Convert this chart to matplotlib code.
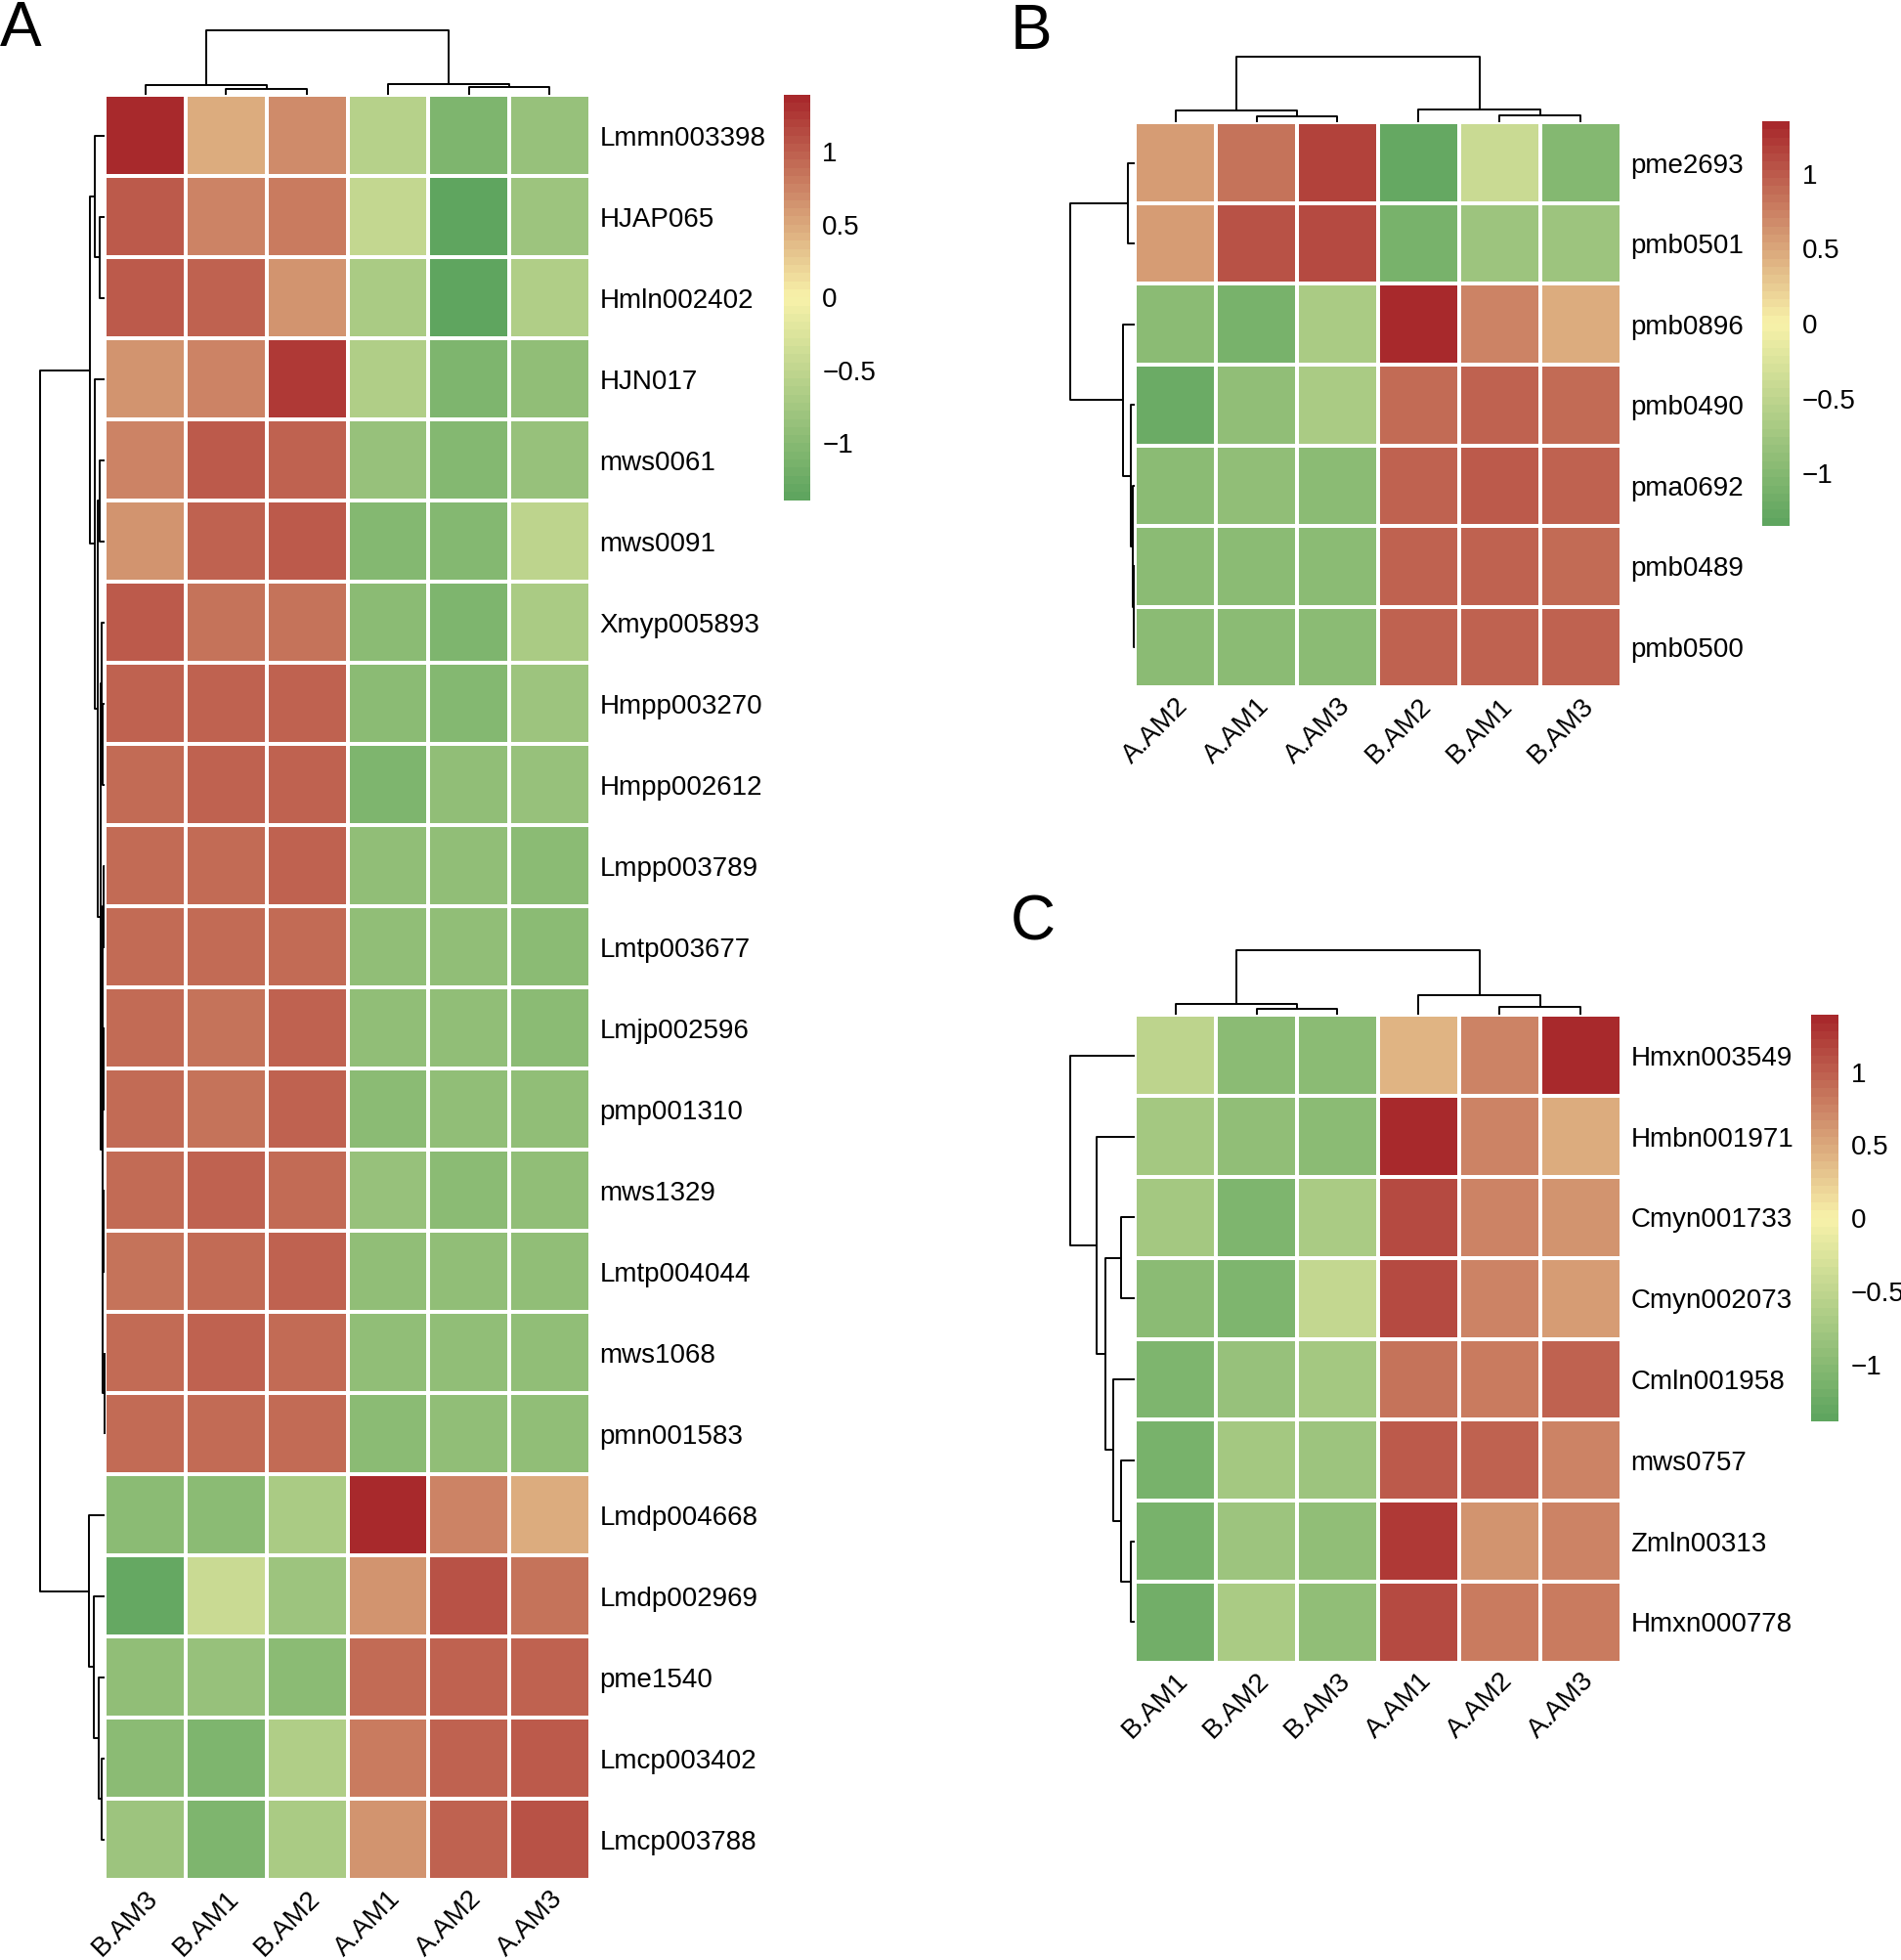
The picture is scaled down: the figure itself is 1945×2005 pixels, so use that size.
import numpy as np
import matplotlib
matplotlib.use("Agg")
import matplotlib.pyplot as plt
from matplotlib.colors import LinearSegmentedColormap

plt.rcParams["font.family"] = ["Liberation Sans", "DejaVu Sans"]

# ---------------- data ----------------
# panel A
a_rows = ["Lmmn003398", "HJAP065", "Hmln002402", "HJN017", "mws0061", "mws0091",
          "Xmyp005893", "Hmpp003270", "Hmpp002612", "Lmpp003789", "Lmtp003677",
          "Lmjp002596", "pmp001310", "mws1329", "Lmtp004044", "mws1068", "pmn001583",
          "Lmdp004668", "Lmdp002969", "pme1540", "Lmcp003402", "Lmcp003788"]
a_cols = ["B.AM3", "B.AM1", "B.AM2", "A.AM1", "A.AM2", "A.AM3"]
a_vals = [
    [1.39, 0.50, 0.70, -0.60, -1.10, -0.85],
    [1.05, 0.75, 0.80, -0.45, -1.37, -0.80],
    [1.05, 0.95, 0.65, -0.70, -1.35, -0.65],
    [0.65, 0.75, 1.25, -0.65, -1.10, -0.90],
    [0.75, 1.05, 0.95, -0.85, -1.05, -0.85],
    [0.65, 0.95, 1.05, -1.05, -1.05, -0.55],
    [1.05, 0.85, 0.85, -0.95, -1.10, -0.70],
    [0.95, 0.95, 0.95, -0.95, -1.05, -0.80],
    [0.90, 0.95, 0.95, -1.10, -0.90, -0.85],
    [0.93, 0.90, 0.95, -0.90, -0.90, -0.95],
    [0.93, 0.93, 0.93, -0.90, -0.92, -0.95],
    [0.93, 0.88, 0.98, -0.90, -0.92, -0.95],
    [0.93, 0.88, 0.98, -0.95, -0.90, -0.92],
    [0.92, 0.98, 0.90, -0.88, -0.97, -0.93],
    [0.88, 0.93, 0.98, -0.93, -0.90, -0.93],
    [0.90, 0.98, 0.90, -0.92, -0.92, -0.92],
    [0.93, 0.93, 0.93, -0.95, -0.90, -0.92],
    [-0.95, -1.00, -0.70, 1.39, 0.75, 0.45],
    [-1.30, -0.40, -0.80, 0.65, 1.10, 0.85],
    [-0.90, -0.85, -1.00, 0.90, 0.95, 0.95],
    [-0.95, -1.10, -0.65, 0.80, 0.95, 1.05],
    [-0.80, -1.10, -0.70, 0.65, 0.95, 1.10],
]
# merges: (child, child, height); leaves are 0..n-1, new nodes numbered after
a_row_tree = [(1, 2, 0.085), (0, 22, 0.15), (4, 5, 0.085), (7, 8, 0.03), (6, 25, 0.05),
              (9, 10, 0.015), (11, 12, 0.02), (27, 28, 0.03), (13, 14, 0.02), (15, 16, 0.01),
              (30, 31, 0.03), (29, 32, 0.04), (26, 33, 0.07), (24, 34, 0.11), (3, 35, 0.15),
              (23, 36, 0.225), (20, 21, 0.055), (19, 38, 0.10), (18, 39, 0.165),
              (17, 40, 0.25), (37, 41, 1.0)]
a_col_tree = [(1, 2, 0.10), (0, 6, 0.16), (4, 5, 0.12), (3, 8, 0.165), (7, 9, 1.0)]

# panel B
b_rows = ["pme2693", "pmb0501", "pmb0896", "pmb0490", "pma0692", "pmb0489", "pmb0500"]
b_cols = ["A.AM2", "A.AM1", "A.AM3", "B.AM2", "B.AM1", "B.AM3"]
b_vals = [
    [0.55, 0.85, 1.15, -1.25, -0.40, -1.00],
    [0.55, 1.05, 1.10, -1.10, -0.80, -0.80],
    [-0.95, -1.10, -0.65, 1.35, 0.75, 0.45],
    [-1.20, -0.90, -0.65, 0.90, 0.95, 0.90],
    [-0.95, -0.90, -0.95, 0.92, 0.98, 0.95],
    [-0.95, -0.95, -0.95, 0.95, 0.97, 0.90],
    [-0.95, -0.95, -0.95, 0.92, 0.97, 0.92],
]
b_row_tree = [(0, 1, 0.106), (5, 6, 0.02), (4, 8, 0.04), (3, 9, 0.06), (2, 10, 0.18), (7, 11, 1.0)]
b_col_tree = [(1, 2, 0.10), (0, 6, 0.18), (4, 5, 0.115), (3, 8, 0.19), (7, 9, 1.0)]

# panel C
c_rows = ["Hmxn003549", "Hmbn001971", "Cmyn001733", "Cmyn002073", "Cmln001958",
          "mws0757", "Zmln00313", "Hmxn000778"]
c_cols = ["B.AM1", "B.AM2", "B.AM3", "A.AM1", "A.AM2", "A.AM3"]
c_vals = [
    [-0.55, -1.00, -0.95, 0.40, 0.75, 1.38],
    [-0.75, -0.90, -0.95, 1.39, 0.75, 0.50],
    [-0.75, -1.10, -0.70, 1.15, 0.75, 0.65],
    [-0.95, -1.10, -0.50, 1.15, 0.75, 0.60],
    [-1.10, -0.85, -0.75, 0.85, 0.80, 1.00],
    [-1.15, -0.75, -0.80, 1.05, 0.95, 0.75],
    [-1.15, -0.80, -0.90, 1.25, 0.65, 0.75],
    [-1.20, -0.70, -0.90, 1.15, 0.80, 0.80],
]
c_row_tree = [(6, 7, 0.07), (5, 8, 0.22), (4, 9, 0.34), (2, 3, 0.22), (11, 10, 0.46),
              (1, 12, 0.59), (0, 13, 1.0)]
c_col_tree = [(1, 2, 0.10), (0, 6, 0.17), (4, 5, 0.12), (3, 8, 0.30), (7, 9, 1.0)]

cmap = LinearSegmentedColormap.from_list("gyr", ["#5FA55F", "#F8F2AA", "#A8292C"], N=50)

W, H = 1945, 2005
fig = plt.figure(figsize=(W / 100, H / 100), dpi=100)


def box(x0, y0, x1, y1):
    return [x0 / W, 1 - y1 / H, (x1 - x0) / W, (y1 - y0) / H]


def draw_tree(ax, tree, n, orient):
    pos = {i: i + 0.5 for i in range(n)}
    hgt = {i: 0.0 for i in range(n)}
    for k, (a, b, h) in enumerate(tree):
        node = n + k
        xs = [pos[a], pos[a], pos[b], pos[b]]
        ys = [hgt[a], h, h, hgt[b]]
        if orient == "top":
            ax.plot(xs, ys, color="black", lw=1.4, clip_on=False, solid_capstyle="butt")
        else:
            ax.plot(ys, xs, color="black", lw=1.4, clip_on=False, solid_capstyle="butt")
        pos[node] = (pos[a] + pos[b]) / 2
        hgt[node] = h
    if orient == "top":
        ax.set_xlim(0, n)
        ax.set_ylim(0, 1)
    else:
        ax.set_ylim(n, 0)
        ax.set_xlim(1, 0)
    ax.axis("off")


def fmt(v, _):
    return f"{v:g}".replace("-", "\u2212")


def panel(vals, rows, cols, row_tree, col_tree, heat_px, cbar_px, dendro_w, dendro_h):
    data = np.array(vals)
    lim = np.abs(data).max()
    x0, y0, x1, y1 = heat_px
    ax = fig.add_axes(box(x0, y0, x1, y1))
    mesh = ax.pcolormesh(data, cmap=cmap, vmin=-lim, vmax=lim, edgecolors="white", linewidth=1.6)
    ax.set_xlim(0, len(cols))
    ax.set_ylim(len(rows), 0)
    for s in ax.spines.values():
        s.set_visible(False)
    ax.yaxis.tick_right()
    ax.set_yticks(np.arange(len(rows)) + 0.5)
    ax.set_yticklabels(rows, fontsize=20)
    ax.set_xticks(np.arange(len(cols)) + 0.5)
    ax.set_xticklabels(cols, fontsize=20, rotation=45, ha="right", va="top",
                       rotation_mode="anchor")
    ax.tick_params(axis="y", length=0, pad=7)
    ax.tick_params(axis="x", length=0, pad=4)

    tx = fig.add_axes(box(x0, y0 - dendro_h, x1, y0))
    draw_tree(tx, col_tree, len(cols), "top")
    rx = fig.add_axes(box(x0 - dendro_w, y0, x0, y1))
    draw_tree(rx, row_tree, len(rows), "left")

    cax = fig.add_axes(box(*cbar_px))
    cb = fig.colorbar(mesh, cax=cax, ticks=[-1, -0.5, 0, 0.5, 1], format=fmt)
    cb.outline.set_visible(False)
    cax.tick_params(length=0, pad=9, labelsize=20)


panel(a_vals, a_rows, a_cols, a_row_tree, a_col_tree,
      (107.4, 97.2, 603.6, 1923.3), (801.8, 97.2, 828.7, 511.5), 66.5, 66.5)
panel(b_vals, b_rows, b_cols, b_row_tree, b_col_tree,
      (1161.2, 125.3, 1658.6, 703.3), (1803, 124, 1831, 538), 66.5, 67.8)
panel(c_vals, c_rows, c_cols, c_row_tree, c_col_tree,
      (1161.2, 1038.4, 1658.6, 1700.8), (1853, 1038.4, 1881, 1454), 66.5, 66.5)

fig.text(0 / W, 1.0, "A", fontsize=46, va="top", ha="left")
fig.text(1034 / W, 1 - 3 / H, "B", fontsize=46, va="top", ha="left")
fig.text(1034 / W, 1 - 915 / H, "C", fontsize=46, va="top", ha="left")

fig.savefig("out.png", dpi=100)
